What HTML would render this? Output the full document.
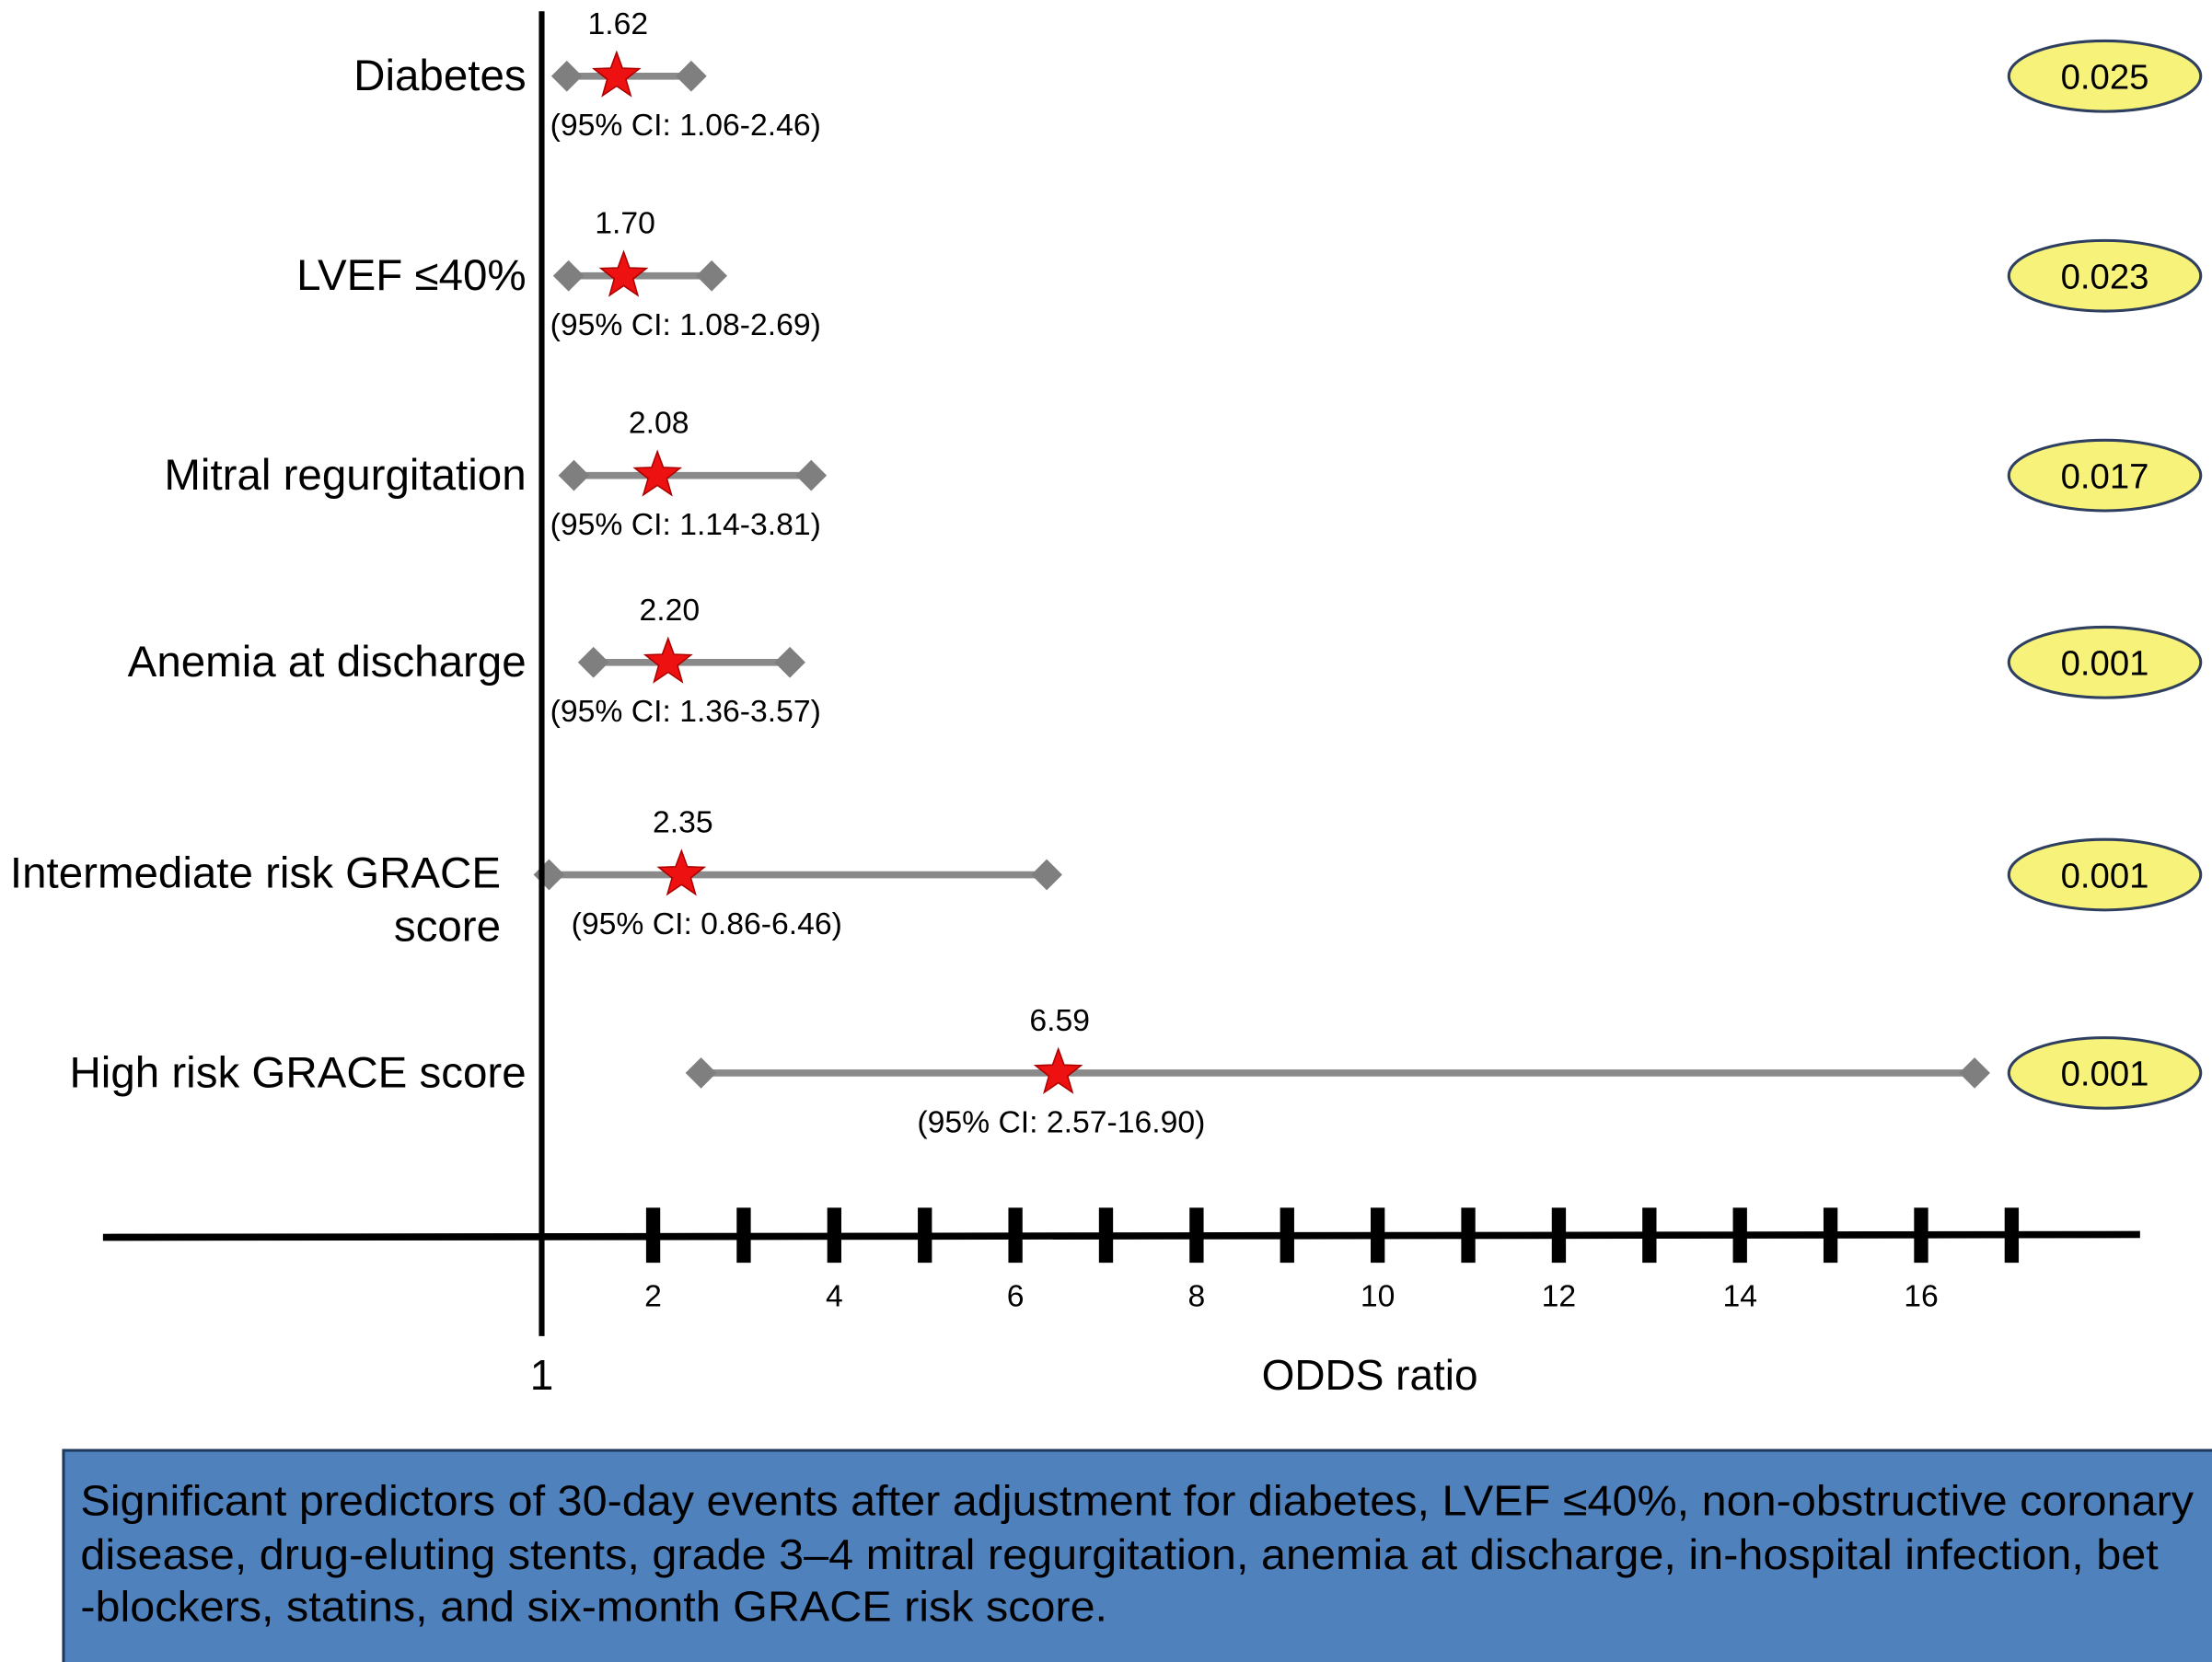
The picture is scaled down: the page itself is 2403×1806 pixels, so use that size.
<!DOCTYPE html>
<html><head><meta charset="utf-8"><style>
html,body{margin:0;padding:0;background:#fff}
svg{display:block}
text{font-family:"Liberation Sans",Arial,sans-serif}
</style></head><body>
<svg id="chart" width="2403" height="1806" viewBox="0 0 1568 1178" preserveAspectRatio="none" xmlns="http://www.w3.org/2000/svg">
<rect width="1568" height="1178" fill="#fff"/>
<g id="rows"></g>
<line x1="384" y1="8" x2="384" y2="947" stroke="#000" stroke-width="4"/>
<line x1="73" y1="877" x2="1517" y2="875" stroke="#000" stroke-width="5"/>
<g id="ticks"></g>
<text x="384" y="985" font-size="30" text-anchor="middle">1</text>
<text x="971" y="985" font-size="30" text-anchor="middle">ODDS ratio</text>
<rect x="45" y="1028" width="1530" height="160" fill="#4f81bd" stroke="#1f3a5f" stroke-width="2"/>
<g font-size="30" fill="#000">
<text x="57" y="1074" textLength="1498" lengthAdjust="spacingAndGlyphs">Significant predictors of 30-day events after adjustment for diabetes, LVEF ≤40%, non-obstructive coronary</text>
<text x="57" y="1112" textLength="1473" lengthAdjust="spacingAndGlyphs">disease, drug-eluting stents, grade 3–4 mitral regurgitation, anemia at discharge, in-hospital infection, bet</text>
<text x="57" y="1149" textLength="728" lengthAdjust="spacingAndGlyphs">-blockers, statins, and six-month GRACE risk score.</text>
</g>
</svg>
<script>
const categories = ["Diabetes","LVEF ≤40%","Mitral regurgitation","Anemia at discharge","Intermediate risk GRACE|score","High risk GRACE score"];
const oddsRatios = [1.62,1.70,2.08,2.20,2.35,6.59];
const ciLow = [1.06,1.08,1.14,1.36,0.86,2.57];
const ciHigh = [2.46,2.69,3.81,3.57,6.46,16.90];
const pValues = ["0.025","0.023","0.017","0.001","0.001","0.001"];
const tickValues = [2,3,4,5,6,7,8,9,10,11,12,13,14,15,16,17];
const tickLabels = ["2","","4","","6","","8","","10","","12","","14","","16",""];

const NS="http://www.w3.org/2000/svg";
function xs(v){return 398+63*(v-1);}
function tx(v){return 463+64.2*(v-2);}
function ys(i){return 54+141.5*i + (i===3?-9:0) + (i===5?-1:0);}
function mk(tag,attrs,parent,txt){const e=document.createElementNS(NS,tag);for(const k in attrs)e.setAttribute(k,attrs[k]);if(txt!==undefined)e.textContent=txt;parent.appendChild(e);return e;}
function star(cx,cy,R,r){let p=[];for(let k=0;k<10;k++){const a=-Math.PI/2+k*Math.PI/5;const rad=k%2?r:R;p.push((cx+rad*Math.cos(a)).toFixed(1)+","+(cy+rad*Math.sin(a)).toFixed(1));}return p.join(" ");}
function diamond(cx,cy,w,h){return `${cx-w},${cy} ${cx},${cy-h} ${cx+w},${cy} ${cx},${cy+h}`;}

const rows=document.getElementById('rows');
categories.forEach((c,i)=>{
  const y=ys(i);
  const g=mk('g',{},rows);
  
  
  const parts=c.split('|');
  const lab=mk('text',{x:parts.length>1?355:373,y:parts.length>1?y+9:y+10,'font-size':31,'text-anchor':'end'},g,parts[0]);
  
  
  if(parts.length>1){
    const l2=mk('text',{x:355,y:y+47,'font-size':31,'text-anchor':'end'},g,parts[1]);
    
    
  }
  const x1=xs(ciLow[i]),x2=xs(ciHigh[i]),xm=xs(oddsRatios[i]);
  const ln=mk('line',{x1:x1,y1:y,x2:x2,y2:y,stroke:'#8a8a8a','stroke-width':5},g);
  
  
  [x1,x2].forEach(xx=>{
    const d=mk('polygon',{points:diamond(xx,y,11,11),fill:'#7f7f7f'},g);
    
    
  });
  const s=mk('polygon',{points:star(xm,y,17,7),fill:'#ee1111',stroke:'#aa0000','stroke-width':1},g);
  
  
  const v=mk('text',{x:xm+1,y:y-30,'font-size':22,'text-anchor':'middle'},g,oddsRatios[i].toFixed(2));
  
  
  const ci=mk('text',{x:Math.max(390,xm-100)+(i===4?15:0),y:y+42,'font-size':22,'text-anchor':'start'},g,`(95% CI: ${ciLow[i].toFixed(2)}-${ciHigh[i].toFixed(2)})`);
  
  
  const el=mk('ellipse',{cx:1492,cy:y,rx:68,ry:25,fill:'#f6f27a',stroke:'#2f3f5f','stroke-width':2},g);
  
  
  const pt=mk('text',{x:1492,y:y+9,'font-size':25,'text-anchor':'middle'},g,pValues[i]);
  
  
});

const ticks=document.getElementById('ticks');
tickValues.forEach((t,i)=>{
  const x=tx(t);
  const r=mk('rect',{x:x-5,y:856,width:10,height:39,fill:'#000'},ticks);
  
  
  if(tickLabels[i]){
    const tl=mk('text',{x:x,y:926,'font-size':22,'text-anchor':'middle'},ticks,tickLabels[i]);
    
    
  }
});
</script>
</body></html>
